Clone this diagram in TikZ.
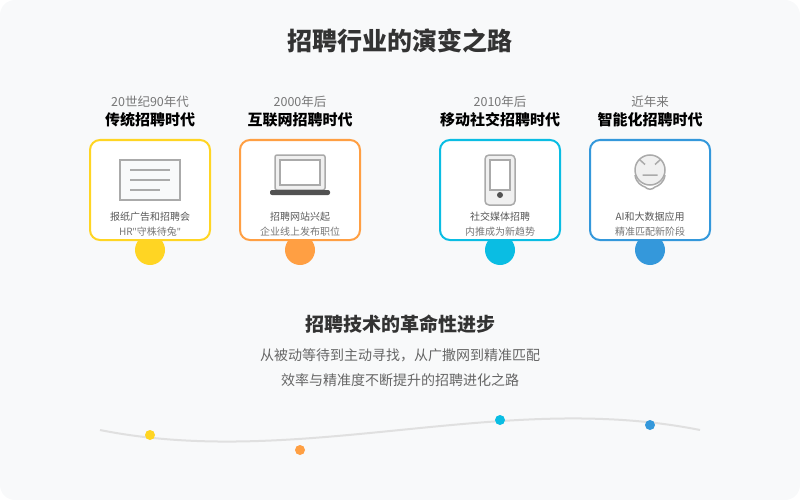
\documentclass[tikz,border=0pt]{standalone}
\usepackage{fontspec}
\setmainfont{Noto Sans CJK SC}
\newfontfamily\quotefont{Noto Sans}
\usetikzlibrary{positioning}
\definecolor{pagebg}{HTML}{F8F9FA}
\definecolor{inkdark}{HTML}{333333}
\definecolor{inkmid}{HTML}{666666}
\definecolor{inksoft}{HTML}{777777}
\definecolor{icongray}{HTML}{AAAAAA}
\definecolor{yellowera}{HTML}{FFD523}
\definecolor{orangeera}{HTML}{FF9F43}
\definecolor{cyanera}{HTML}{0ABDE3}
\definecolor{blueera}{HTML}{3498DB}
\newcommand{\sized}[1]{\fontsize{#1}{#1}\selectfont}
\begin{document}
\begin{tikzpicture}[x=1pt,y=-1pt,node distance=60pt,on grid]
	\tikzset{dot/.style={circle,inner sep=0pt,outer sep=0pt,minimum size=30pt,fill=#1}}
	\tikzset{smalldot/.style={circle,inner sep=0pt,outer sep=0pt,minimum size=10pt,fill=#1}}
	\tikzset{card/.style={draw=#1,fill=white,line width=2pt,rounded corners=10pt,inner sep=0pt,outer sep=0pt,minimum width=120pt,minimum height=100pt}}
	\tikzset{eralabel/.style={inner sep=0pt,text=inksoft,font=\sized{12.5}}}
	\tikzset{namelabel/.style={inner sep=0pt,text=black,font=\sized{15}\bfseries}}
	\tikzset{desclabel/.style={inner sep=0pt,text=inkmid!85!black,font=\sized{10}}}
	\tikzset{sublabel/.style={inner sep=0pt,text=inksoft,font=\sized{10}}}
	\tikzset{iconline/.style={draw=icongray,line width=1.5pt}}
	\useasboundingbox (0,0) rectangle (800,500);
	\fill[pagebg,rounded corners=15pt] (0,0) rectangle (800,500);

	\node[inner sep=0pt,text=inkdark,font=\sized{25}\bfseries] (title) at (400,41) {招聘行业的演变之路};

	\node[dot=yellowera]          (dot1) at (150,250)      {};
	\node[dot=orangeera]          (dot2) [right=150pt of dot1] {};
	\node[dot=cyanera]            (dot3) [right=200pt of dot2] {};
	\node[dot=blueera]            (dot4) [right=150pt of dot3] {};

	\node[card=yellowera]         (card1) [above=of dot1]  {};
	\node[card=orangeera]         (card2) [above=of dot2]  {};
	\node[card=cyanera]           (card3) [above=of dot3]  {};
	\node[card=blueera]           (card4) [above=of dot4]  {};

	\node[eralabel]  (era1)  [above=88.5pt of card1]  {20世纪90年代};
	\node[eralabel]  (era2)  [above=88.5pt of card2]  {2000年后};
	\node[eralabel]  (era3)  [above=88.5pt of card3]  {2010年后};
	\node[eralabel]  (era4)  [above=88.5pt of card4]  {近年来};

	\node[namelabel] (name1) [above=70pt of card1]  {传统招聘时代};
	\node[namelabel] (name2) [above=70pt of card2]  {互联网招聘时代};
	\node[namelabel] (name3) [above=70pt of card3]  {移动社交招聘时代};
	\node[namelabel] (name4) [above=70pt of card4]  {智能化招聘时代};

	\node[desclabel] (desc1) [below=27pt of card1]  {报纸广告和招聘会};
	\node[desclabel] (desc2) [below=27pt of card2]  {招聘网站兴起};
	\node[desclabel] (desc3) [below=27pt of card3]  {社交媒体招聘};
	\node[desclabel] (desc4) [below=27pt of card4]  {AI和大数据应用};

	\node[sublabel]  (sub1)  [below=41.5pt of card1]  {HR{\quotefont"}守株待兔{\quotefont"}};
	\node[sublabel]  (sub2)  [below=41.5pt of card2]  {企业线上发布职位};
	\node[sublabel]  (sub3)  [below=41.5pt of card3]  {内推成为新趋势};
	\node[sublabel]  (sub4)  [below=41.5pt of card4]  {精准匹配新阶段};

	% newspaper
	\draw[iconline,fill=pagebg] (120,160) rectangle (180,200);
	\draw[iconline] (130,170) -- (170,170) (130,180) -- (170,180) (130,190) -- (160,190);
	% laptop
	\draw[iconline,fill=black!6,rounded corners=2pt] (275,155) rectangle (325,190);
	\draw[iconline,fill=white] (280,160) rectangle (320,185);
	\fill[black!68,rounded corners=2pt] (270,190) rectangle (330,195);
	% phone
	\draw[iconline,fill=black!6,rounded corners=4pt] (485,155) rectangle (515,205);
	\draw[iconline,fill=white] (490,160) rectangle (510,190);
	\fill[black!68] (500,195) circle (3pt);
	% robot
	\draw[iconline] (635,175) .. controls (636,183) and (642,186) .. (645,187) .. controls (648,190) and (652,190) .. (655,187) .. controls (658,186) and (664,183) .. (665,175);
	\draw[iconline,fill=black!6] (650,170) circle (15pt);
	\draw[iconline] (639.5,159.5) -- (645,164.5) (660.5,159.5) -- (655,164.5) (642.5,175) -- (657.5,175);

	\node[inner sep=0pt,text=inkdark,font=\sized{19}\bfseries] (headline) at (400,324) {招聘技术的革命性进步};
	\node[inner sep=0pt,text=inkmid,font=\sized{14}] (text1) [below=31.5pt of headline] {从被动等待到主动寻找，从广撒网到精准匹配};
	\node[inner sep=0pt,text=inkmid,font=\sized{14}] (text2) [below=25pt of text1] {效率与精准度不断提升的招聘进化之路};

	\draw[black!12,line width=2pt] (100,430) .. controls (200,450) and (300,440) .. (400,430) .. controls (500,420) and (600,410) .. (700,430);

	\node[smalldot=yellowera]     (mark1) at (150,435)     {};
	\node[smalldot=orangeera]     (mark2) at (300,450)     {};
	\node[smalldot=cyanera]       (mark3) at (500,420)     {};
	\node[smalldot=blueera]       (mark4) at (650,425)     {};
\end{tikzpicture}
\end{document}
